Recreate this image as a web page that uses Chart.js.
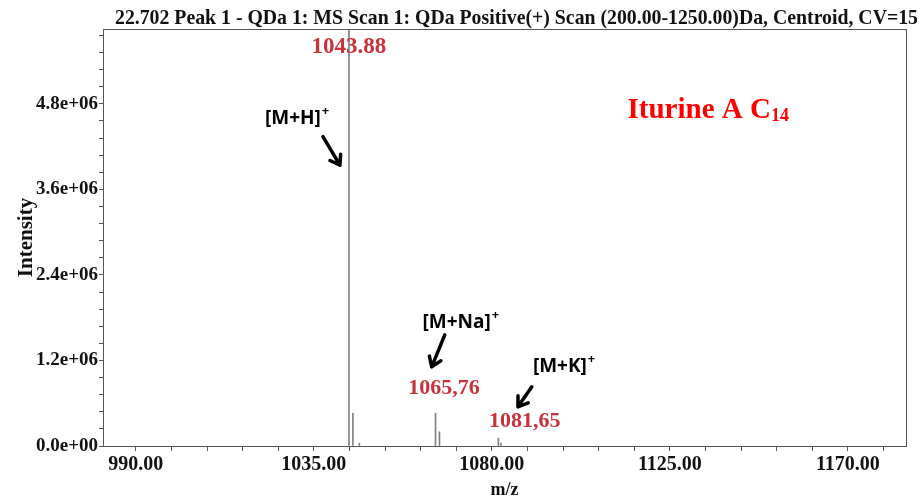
<!DOCTYPE html>
<html>
<head>
<meta charset="utf-8">
<script src="https://cdn.jsdelivr.net/npm/chart.js@4.4.1/dist/chart.umd.min.js"></script>
<style>
  html, body { margin: 0; padding: 0; background: #fff; }
  #wrap { width: 924px; height: 501px; }
</style>
</head>
<body>
<div id="wrap"><canvas id="espectro"></canvas></div>
<script>
// Espectro de masas (centroid) - Iturina A C14

// picos: m/z e intensidad
const mz = [1043.88, 1044.88, 1046.50, 1065.76, 1066.76, 1081.65, 1082.30];
const intensidad = [5.85e6, 4.6e5, 0.4e5, 4.6e5, 2.0e5, 1.1e5, 0.4e5];

// ejes
const xMin = 981.7, xMax = 1184.7;
const yMin = 0, yMax = 5.85e6;
const xInicioTicks = 990, xPasoMenor = 9;
const yPasoMenor = 0.24e6;
const menoresPorMayor = 5;

const titulo = '22.702 Peak 1 - QDa 1: MS Scan 1: QDa Positive(+) Scan (200.00-1250.00)Da, Centroid, CV=15';

// etiquetas rojas de los picos (posición en unidades de datos)
const etiquetasPico = [
  { texto: '1043.88', x: 1043.88, y: 5.59e6, size: 23 },
  { texto: '1065,76', x: 1067.9, y: 0.81e6, size: 22 },
  { texto: '1081,65', x: 1088.3, y: 0.35e6, size: 22 }
];
// aductos
const aductos = [
  { texto: '[M+H]', x: 1029.7, y: 4.60e6 },
  { texto: '[M+Na]', x: 1071.1, y: 1.73e6 },
  { texto: '[M+K]', x: 1097.2, y: 1.12e6 }
];
const flechas = [
  { x1: 1037.3, y1: 4.34e6, x2: 1041.6, y2: 3.94e6 },
  { x1: 1068.1, y1: 1.56e6, x2: 1064.8, y2: 1.11e6 },
  { x1: 1090.1, y1: 0.83e6, x2: 1086.6, y2: 0.55e6 }
];
const compuesto = { texto: 'Iturine A C', sub: '14', x: 1114.3, y: 4.74e6 };

const SERIF = '"Liberation Serif", "Times New Roman", serif';
const COLORES = {
  pico: '#808080',
  eje: '#555555',
  texto: '#111111',
  rojo: '#c8323a',
  rojoVivo: '#ff0000'
};

function formatoCientifico(v) {
  if (v === 0) return '0.0e+00';
  const e = Math.floor(Math.log10(v) + 1e-9);
  const m = v / Math.pow(10, e);
  return m.toFixed(1) + 'e+' + String(e).padStart(2, '0');
}

function ticksX() {
  const t = [];
  for (let v = xInicioTicks; v <= xMax; v += xPasoMenor) t.push({ value: v });
  return t;
}
function ticksY() {
  const t = [];
  for (let i = 0; i * yPasoMenor <= yMax; i++) t.push({ value: i * yPasoMenor });
  return t;
}

function flecha(ctx, x1, y1, x2, y2) {
  const ang = Math.atan2(y2 - y1, x2 - x1);
  const largo = 11, abertura = 0.6;
  ctx.beginPath();
  ctx.moveTo(x1, y1);
  ctx.lineTo(x2, y2);
  ctx.moveTo(x2 - largo * Math.cos(ang - abertura), y2 - largo * Math.sin(ang - abertura));
  ctx.lineTo(x2, y2);
  ctx.lineTo(x2 - largo * Math.cos(ang + abertura), y2 - largo * Math.sin(ang + abertura));
  ctx.stroke();
}

// marco, título y anotaciones
const anotaciones = {
  id: 'anotaciones',
  afterDraw(chart) {
    const { ctx, chartArea: a, scales: { x, y } } = chart;
    ctx.save();

    ctx.strokeStyle = COLORES.eje;
    ctx.lineWidth = 1;
    ctx.strokeRect(a.left + 0.5, a.top + 0.5, a.right - a.left, a.bottom - a.top);

    // título condensado
    ctx.font = 'bold 22px ' + SERIF;
    ctx.fillStyle = COLORES.texto;
    ctx.textBaseline = 'alphabetic';
    ctx.textAlign = 'left';
    const ancho = ctx.measureText(titulo).width;
    const objetivo = 803;
    ctx.save();
    ctx.translate(115, 24);
    ctx.scale(objetivo / ancho, 1);
    ctx.fillText(titulo, 0, 0);
    ctx.restore();

    // valores de los picos
    ctx.textAlign = 'center';
    ctx.textBaseline = 'middle';
    ctx.fillStyle = COLORES.rojo;
    etiquetasPico.forEach(e => {
      ctx.font = 'bold ' + e.size + 'px ' + SERIF;
      ctx.fillText(e.texto, x.getPixelForValue(e.x), y.getPixelForValue(e.y));
    });

    // aductos con superíndice
    ctx.fillStyle = '#000';
    aductos.forEach(e => {
      ctx.font = 'bold 19px "Open Sans", "Liberation Sans", sans-serif';
      const w = ctx.measureText(e.texto).width;
      const px = x.getPixelForValue(e.x) - w / 2;
      const py = y.getPixelForValue(e.y);
      ctx.textAlign = 'left';
      ctx.fillText(e.texto, px, py);
      ctx.font = 'bold 13px "Open Sans", "Liberation Sans", sans-serif';
      ctx.fillText('+', px + w + 1, py - 7);
    });

    ctx.strokeStyle = '#000';
    ctx.lineWidth = 3.5;
    ctx.lineCap = 'round';
    ctx.lineJoin = 'round';
    flechas.forEach(f => flecha(ctx,
      x.getPixelForValue(f.x1), y.getPixelForValue(f.y1),
      x.getPixelForValue(f.x2), y.getPixelForValue(f.y2)));

    // nombre del compuesto
    ctx.fillStyle = COLORES.rojoVivo;
    ctx.textAlign = 'left';
    ctx.textBaseline = 'alphabetic';
    ctx.font = 'bold 29px ' + SERIF;
    const cx = x.getPixelForValue(compuesto.x);
    const cy = y.getPixelForValue(compuesto.y) + 10;
    ctx.fillText(compuesto.texto, cx, cy);
    const wc = ctx.measureText(compuesto.texto).width;
    ctx.font = 'bold 18px ' + SERIF;
    ctx.fillText(compuesto.sub, cx + wc, cy + 3);

    ctx.restore();
  }
};

const ctx = document.getElementById('espectro').getContext('2d');
new Chart(ctx, {
  type: 'bar',
  data: {
    datasets: [{
      data: mz.map((m, i) => ({ x: m, y: intensidad[i] })),
      backgroundColor: COLORES.pico,
      borderWidth: 0,
      barThickness: 1
    }]
  },
  options: {
    responsive: true,
    maintainAspectRatio: false,
    animation: false,
    layout: { padding: { top: 29, right: 18, bottom: 0, left: 10 } },
    plugins: {
      legend: { display: false },
      tooltip: { enabled: false }
    },
    scales: {
      x: {
        type: 'linear',
        min: xMin,
        max: xMax,
        offset: false,
        afterBuildTicks: s => { s.ticks = ticksX(); },
        afterFit: s => { s.height = 55; },
        grid: { drawOnChartArea: false, offset: false, tickLength: 5, color: COLORES.eje },
        border: { color: COLORES.eje },
        ticks: {
          autoSkip: false,
          maxRotation: 0,
          padding: 2,
          color: COLORES.texto,
          font: { family: SERIF, size: 20, weight: 'bold' },
          callback: (v, i) => (i % menoresPorMayor === 0 ? v.toFixed(2) : '')
        },
        title: {
          display: true,
          text: 'm/z',
          color: COLORES.texto,
          padding: { top: 0, bottom: 0 },
          font: { family: SERIF, size: 18, weight: 'bold' }
        }
      },
      y: {
        min: yMin,
        max: yMax,
        afterBuildTicks: s => { s.ticks = ticksY(); },
        afterFit: s => { s.width = 93; },
        grid: { drawOnChartArea: false, tickLength: 4, color: COLORES.eje },
        border: { color: COLORES.eje },
        ticks: {
          autoSkip: false,
          padding: 1,
          color: COLORES.texto,
          font: { family: SERIF, size: 19, weight: 'bold' },
          callback: (v, i) => (i % menoresPorMayor === 0 ? formatoCientifico(v) : '')
        },
        title: {
          display: true,
          text: 'Intensity',
          color: COLORES.texto,
          padding: { top: 4, bottom: 0 },
          font: { family: SERIF, size: 21, weight: 'bold' }
        }
      }
    }
  },
  plugins: [anotaciones]
});
</script>
</body>
</html>
